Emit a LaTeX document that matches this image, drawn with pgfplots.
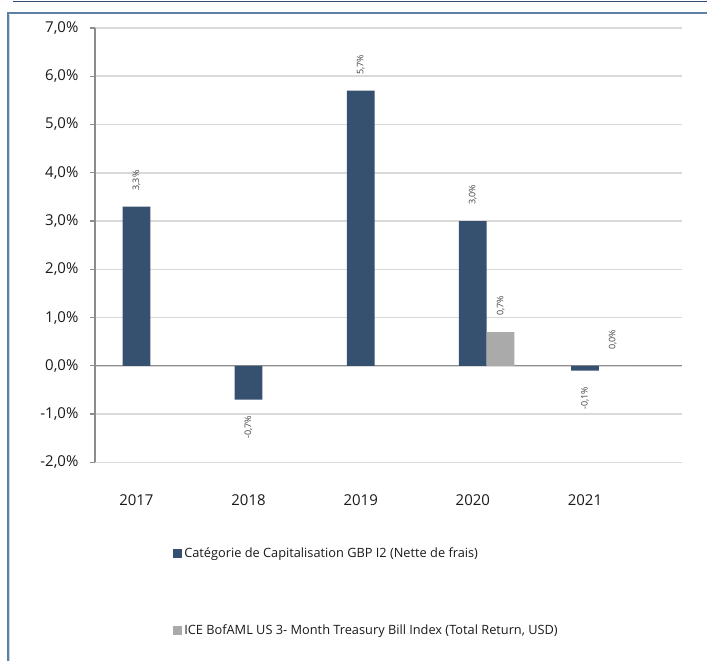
\documentclass[border=0pt]{standalone}
\usepackage{graphicx}
\usepackage{pgfplots}
\pgfplotsset{compat=1.18}
\usepackage{fontspec}
\setmainfont{Open Sans}
\definecolor{barblue}{HTML}{36506F}
\definecolor{bargrey}{HTML}{AAAAAA}
\definecolor{framedark}{HTML}{2E4D6E}
\definecolor{frameblue}{HTML}{5E80A6}
\definecolor{framelight}{HTML}{C5D5EA}
\definecolor{gridgrey}{HTML}{D9D9D9}
\definecolor{axisgrey}{HTML}{8C8C8C}
\definecolor{txt}{HTML}{1A1A1A}
\definecolor{lbl}{HTML}{404040}
\begin{document}
\begin{tikzpicture}
\path (0pt,0pt) rectangle (708pt,662pt);
\draw[framedark, line width=1pt] (13pt,660pt) -- (708pt,660pt);
\draw[framelight, line width=1pt] (10pt,0pt) -- (10pt,647pt);
\draw[frameblue, line width=2pt] (8pt,0pt) -- (8pt,648.5pt) -- (708pt,648.5pt);
\begin{axis}[
  at={(95pt,199pt)}, anchor=south west,
  width=588pt, height=435pt, scale only axis,
  xmin=-0.494, xmax=4.742,
  ymin=-2, ymax=7,
  ytick={-2,-1,0,1,2,3,4,5,6,7},
  xtick={-0.1235,0.8765,1.8765,2.8765,3.8765},
  xticklabels={2017,2018,2019,2020,2021},
  axis lines*=left,
  axis line style={-},
  x axis line style={draw=none},
  y axis line style={draw=axisgrey, line width=1.3pt},
  x tick style={draw=none},
  y tick style={draw=axisgrey, line width=1.3pt},
  tick align=outside,
  major tick length=5pt,
  ymajorgrids,
  grid style={gridgrey, line width=1.5pt},
  extra y ticks={0},
  extra y tick labels={},
  extra y tick style={grid style={axisgrey, line width=1.3pt}},
  /pgf/number format/assume math mode=true,
  yticklabel={\pgfmathprintnumber[fixed,fixed zerofill,precision=1,use comma]{\tick}\%},
  yticklabel style={font=\fontsize{15}{18}\selectfont, text=txt, anchor=east, xshift=-8pt},
  xticklabel shift=24pt,
  xticklabel style={font=\fontsize{15}{18}\selectfont, text=txt, anchor=north},
  bar width=0.247,
  nodes near coords={\rotatebox{90}{\pgfmathprintnumber[fixed,fixed zerofill,precision=1,use comma]{\pgfplotspointmeta}\%}},
  nodes near coords align={vertical},
  visualization depends on={rawy \as \rawy},
  every node near coord/.append style={font=\fontsize{9}{10}\selectfont, text=lbl, inner sep=1pt},
  every node near coord/.append code={\ifdim\rawy pt<0pt \pgfkeysalso{yshift=-15pt}\else\pgfkeysalso{yshift=15pt}\fi},
  legend style={draw=none, fill=none, at={(0.1332,-0.298)}, anchor=west,
    font=\fontsize{12.8}{15}\selectfont, text=txt, row sep=62pt, inner sep=0pt,
    /tikz/every even column/.append style={column sep=0pt}},
  legend cell align=left,
  legend image code/.code={\fill[#1,draw=none] (0pt,-4.5pt) rectangle (9pt,4.5pt);},
  clip=false,
]
\addplot[ybar, bar shift=-0.1235, fill=barblue, draw=none,
  every node near coord/.append style={xshift=-13.9pt}] coordinates {(0,3.3) (1,-0.7) (2,5.7) (3,3.0) (4,-0.1)};
\addlegendentry{Catégorie de Capitalisation GBP I2 (Nette de frais)}
\addplot[ybar, bar shift=0.1235, fill=bargrey, draw=none,
  every node near coord/.append style={xshift=13.9pt}] coordinates {(3,0.7) (4,0.0)};
\addlegendentry{ICE BofAML US 3- Month Treasury Bill Index (Total Return, USD)}
\end{axis}
\end{tikzpicture}
\end{document}
